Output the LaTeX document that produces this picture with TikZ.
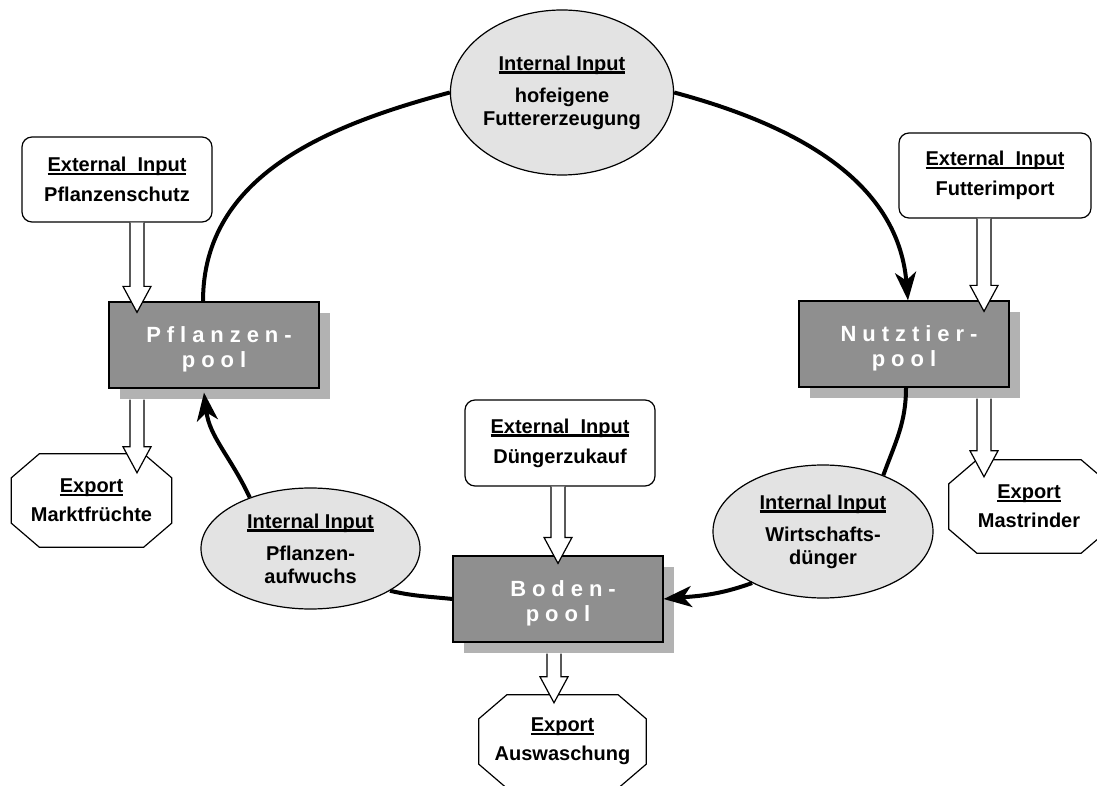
\documentclass[tikz,border=0pt]{standalone}
\usepackage{fontspec}
\setmainfont{Liberation Sans}
\usetikzlibrary{shapes.geometric,shadows,arrows.meta,calc,backgrounds}

\newcommand{\headline}[1]{\setbox0\hbox{#1}\rlap{\rule[-3.5pt]{\wd0}{2.4pt}}\box0}
\newcommand{\hollowarrow}[2]{%
  \draw[hollow] let \p1=#1, \p2=#2 in
    (\x1-7pt,\y1) -- (\x1-7pt,\y2+26pt) -- (\x1-14pt,\y2+26pt) -- (\x1,\y2)
    -- (\x1+14pt,\y2+26pt) -- (\x1+7pt,\y2+26pt) -- (\x1+7pt,\y1);}
\newcommand{\octagon}[1]{%
  \draw[octaline] ([xshift=28pt]#1.north west) -- ([xshift=-28pt]#1.north east)
    -- ([yshift=-24pt]#1.north east) -- ([yshift=24pt]#1.south east)
    -- ([xshift=-28pt]#1.south east) -- ([xshift=28pt]#1.south west)
    -- ([yshift=24pt]#1.south west) -- ([yshift=-24pt]#1.north west) -- cycle;}

\begin{document}
\begin{tikzpicture}[x=1pt,y=1pt,
    every node/.style={font=\fontsize{20}{23}\selectfont\bfseries},
    extbox/.style={draw, line width=1.2pt, rounded corners=10pt, fill=white,
      minimum width=190pt, minimum height=85pt, align=center},
    pool/.style={draw, line width=1.2pt, fill=black!44, text=white,
      minimum width=210pt, minimum height=86pt, align=center,
      drop shadow={shadow xshift=11pt, shadow yshift=-11pt, fill=black!30, opacity=1},
      font=\fontsize{22}{25}\selectfont\bfseries\addfontfeature{LetterSpace=27}},
    intern/.style={ellipse, draw, line width=1.2pt, fill=black!11, inner sep=0pt, align=center},
    export/.style={inner sep=0pt, minimum width=160pt, minimum height=93pt, align=center},
    octaline/.style={line width=1.2pt, fill=white},
    flow/.style={line width=4pt},
    flowarrow/.style={flow, -{Stealth[length=28pt,width=21pt,inset=8pt]}},
    hollow/.style={line width=1.2pt, fill=white, line join=miter}]
    \useasboundingbox (0,0) rectangle (1097,785);

    % inputs from outside
    \node[extbox] (extP) at (117,605.5) {\headline{External\ \ Input}\\[7pt]Pflanzenschutz};
    \node[extbox, minimum width=192pt] (extN) at (995,609.5) {\headline{External\ \ Input}\\[7pt]Futterimport};
    \node[extbox, minimum height=86pt] (extB) at (560,342) {\headline{External\ \ Input}\\[7pt]Düngerzukauf};

    % the three pools
    \node[pool] (poolP) at (214,440) {\rule{0pt}{25pt}\hspace*{10pt}Pflanzen-\\pool};
    \node[pool] (poolN) at (904,441) {\rule{0pt}{25pt}\hspace*{10pt}Nutztier-\\pool};
    \node[pool] (poolB) at (558,186) {\rule{0pt}{25pt}\hspace*{10pt}Boden-\\pool};

    % internal flows
    \node[intern, minimum width=220pt, minimum height=165pt] (intTop) at (562,692.5)
      {\headline{Internal Input}\\[9pt]hofeigene\\Futtererzeugung};
    \node[intern, minimum width=219pt, minimum height=121pt] (intP) at (310.5,236.5)
      {\headline{Internal Input}\\[9pt]Pflanzen-\\aufwuchs};
    \node[intern, minimum width=220pt, minimum height=133pt] (intW) at (823,253.5)
      {\headline{Internal Input}\\[9pt]Wirtschafts-\\dünger};

    % exports
    \node[export] (expM) at (91.5,284.5) {\headline{Export}\\[6pt]Marktfrüchte};
    \node[export] (expR) at (1029,278.5) {\headline{Export}\\[6pt]Mastrinder};
    \node[export, minimum width=167pt] (expA) at (562.5,43.5) {\headline{Export}\\[6pt]Auswaschung};
    \begin{scope}[on background layer]
      \octagon{expM}
      \octagon{expR}
      \octagon{expA}
    \end{scope}

    % cycle
    \draw[flow] ([xshift=-11pt]poolP.north) to[out=90,in=195] (intTop.west);
    \draw[flowarrow] (intTop.east) to[out=-15,in=95] ([xshift=4pt]poolN.north);
    \draw[flow] ([xshift=2pt]poolN.south) to[out=-90,in=70] (intW.43);
    \draw[flowarrow] (intW.216) to[out=200,in=5] (poolB.east);
    \draw[flow] (poolB.west) to[out=174,in=-13] (intP.-28);
    \draw[flowarrow] (intP.140) to[out=115,in=-83] ([xshift=-10pt,yshift=-4pt]poolP.south);

    % in and out
    \hollowarrow{([xshift=20pt]extP.south)}{([yshift=-11pt]poolP.north)}
    \hollowarrow{([xshift=-77pt,yshift=-11pt]poolP.south)}{([yshift=-19pt]expM.north)}
    \hollowarrow{([xshift=-11pt]extN.south)}{([yshift=-11pt]poolN.north)}
    \hollowarrow{([xshift=80pt,yshift=-11pt]poolN.south)}{([yshift=-17pt]expR.north)}
    \hollowarrow{([xshift=-2pt]extB.south)}{([yshift=-8pt]poolB.north)}
    \hollowarrow{([xshift=-4pt,yshift=-11pt]poolB.south)}{([yshift=-8pt]expA.north)}
\end{tikzpicture}
\end{document}
